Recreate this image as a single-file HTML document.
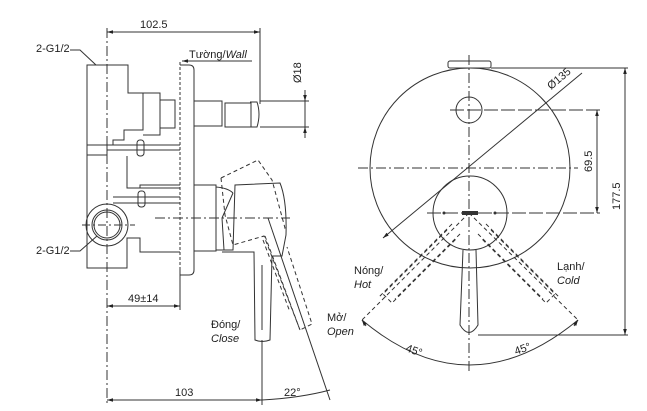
<!DOCTYPE html>
<html><head><meta charset="utf-8"><style>
html,body{margin:0;padding:0;background:#fff;width:647px;height:411px;overflow:hidden}
svg{display:block}
text{font-family:"Liberation Sans","Noto Sans CJK SC",sans-serif;font-size:11px;fill:#222}
.i{font-style:italic}
</style></head><body>
<svg width="647" height="411" viewBox="0 0 647 411" xmlns="http://www.w3.org/2000/svg">
<defs>
<marker id="a" viewBox="0 0 10 10" refX="10" refY="5" markerWidth="6" markerHeight="6" orient="auto-start-reverse"><path d="M0,2 L10,5 L0,8 z" fill="#222"/></marker>
</defs>
<g fill="none" stroke="#333" stroke-width="1">
<!-- LEFT VIEW -->
<!-- center lines -->
<line x1="107" y1="28" x2="107" y2="405" stroke-dasharray="10,3,2,3"/>
<line x1="180" y1="62" x2="180" y2="310" stroke-dasharray="3,2"/>
<line x1="260" y1="28" x2="260" y2="104"/>
<!-- 102.5 dim -->
<line x1="107" y1="32" x2="260" y2="32" marker-start="url(#a)" marker-end="url(#a)"/>
<!-- wall leader -->
<polyline points="252,61 188,61 182,61" marker-end="url(#a)"/>
<!-- 2-G1/2 leaders -->
<polyline points="70,50 80,50 96,65"/>
<polyline points="70,251 80,251 97,236"/>
<!-- body -->
<path d="M87,65 H128 V93 H143 V130 H124 V140 H113 V145 H107 V155 H87 Z"/>
<path d="M87,65 V268 H127 V238 H140 V252 H180"/>
<path d="M143,93 H160 V135 H143"/>
<path d="M160,100 H175 V128 H160"/>
<line x1="87" y1="145" x2="180" y2="145"/>
<line x1="107" y1="150" x2="180" y2="150"/>
<rect x="137" y="140" width="7" height="16" rx="3"/>
<path d="M127,156 V188 H180"/>
<line x1="113" y1="197" x2="180" y2="197"/>
<line x1="113" y1="203" x2="180" y2="203"/>
<rect x="138" y="191" width="7" height="16" rx="3"/>
<path d="M180,185 H140 V188"/>
<!-- fitting circle -->
<circle cx="107" cy="225" r="21"/>
<circle cx="107" cy="225" r="15"/>
<circle cx="107" cy="225" r="13"/>
<line x1="82" y1="225" x2="135" y2="225" stroke-dasharray="8,3,2,3"/>
<!-- wall plate -->
<path d="M180,65 H189 Q194,65 194,70 V270 Q194,275 189,275 H180"/>
<!-- pipe -->
<rect x="194" y="101" width="28" height="25"/>
<rect x="225" y="103" width="26" height="24"/>
<path d="M250,102 H257 Q261,114 257,127 H250"/>
<line x1="260" y1="101" x2="309" y2="101"/>
<line x1="260" y1="127" x2="309" y2="127"/>
<line x1="305" y1="90" x2="305" y2="101" marker-end="url(#a)"/>
<line x1="305" y1="138" x2="305" y2="127" marker-end="url(#a)"/>
<line x1="305" y1="101" x2="305" y2="127"/>
<!-- valve body -->
<rect x="194" y="185" width="22" height="66"/>
<path d="M216,187 Q228,188 233,193"/>
<path d="M216,250 L233,250 L235,185 L280,183 Q287,200 286,235 L282,256 L272,256 L270,340 Q262,343 255,340 L254,252 L222,252"/>
<path d="M233,193 L222,218 L224,250"/>
<line x1="262" y1="265" x2="262" y2="330"/>
<!-- dashed rotated handle -->
<path d="M221,178 L258,160 L272,180 L285,228 L282,230" stroke-dasharray="4,3"/>
<path d="M221,178 L225,215 L233,245 L264,236 L300,330 L312,324 L287,247" stroke-dasharray="4,3"/>
<path d="M265,236 L300,330" stroke-dasharray="4,3"/>
<line x1="263" y1="240" x2="290" y2="312" stroke-dasharray="4,3"/>
<line x1="155" y1="218" x2="290" y2="218" stroke-dasharray="10,3,2,3"/>
<line x1="268" y1="218" x2="330" y2="400"/>
<!-- 49±14 -->
<line x1="180" y1="270" x2="180" y2="310"/>
<line x1="107" y1="306" x2="180" y2="306" marker-start="url(#a)" marker-end="url(#a)"/>
<!-- 103 -->
<line x1="262" y1="340" x2="262" y2="405"/>
<line x1="107" y1="400" x2="262" y2="400" marker-start="url(#a)" marker-end="url(#a)"/>
<path d="M262,400 Q300,398 330,390"/>

<!-- RIGHT VIEW -->
<line x1="469" y1="55" x2="469" y2="372" stroke-dasharray="10,3,2,3"/>
<line x1="358" y1="168" x2="578" y2="168" stroke-dasharray="10,3,2,3"/>
<rect x="448" y="61" width="43" height="7" rx="2"/>
<circle cx="470" cy="168" r="100"/>
<circle cx="469" cy="110" r="13"/>
<line x1="450" y1="110" x2="600" y2="110" stroke-dasharray="14,3"/>
<circle cx="470" cy="213" r="37"/>
<line x1="427" y1="213" x2="600" y2="213" stroke-dasharray="14,3"/>
<line x1="383" y1="238" x2="582" y2="73" marker-start="url(#a)"/>
<line x1="597" y1="110" x2="597" y2="213" marker-start="url(#a)" marker-end="url(#a)"/>
<line x1="491" y1="68" x2="628" y2="68"/>
<line x1="478" y1="335" x2="628" y2="335"/>
<line x1="625" y1="68" x2="625" y2="335" marker-start="url(#a)" marker-end="url(#a)"/>
<!-- handle -->
<path d="M463,250 L460,325 Q469,340 478,325 L476,250"/>
<!-- dashed hot/cold handles -->
<g stroke-dasharray="4,3">
<line x1="469" y1="213" x2="362" y2="320"/>
<line x1="469" y1="213" x2="578" y2="320"/>
<path d="M447,230 L383,294 L392,303 L456,239"/>
<path d="M452,224 L378,298 M460,234 L395,299"/>
<path d="M491,230 L555,294 L546,303 L482,239"/>
<path d="M486,224 L560,298 M478,234 L543,299"/>
</g>
<path d="M362,320 Q469,410 578,320"/>
<line x1="362" y1="320" x2="366" y2="326" marker-start="url(#a)"/>
<line x1="578" y1="320" x2="574" y2="326" marker-start="url(#a)"/>
</g>
<rect x="462" y="211" width="16" height="4" fill="#333"/>
<circle cx="444" cy="213" r="1.5" fill="#333"/>
<circle cx="495" cy="213" r="1.5" fill="#333"/>

<!-- text -->
<text x="140" y="28">102.5</text>
<text x="36" y="52">2-G1/2</text>
<text x="36" y="254">2-G1/2</text>
<text x="189" y="58">Tường/<tspan class="i">Wall</tspan></text>
<text transform="translate(301,83) rotate(-90)">Ø18</text>
<text x="128" y="302">49±14</text>
<text x="175" y="396">103</text>
<text x="284" y="396">22°</text>
<text x="211" y="328">Đóng/</text>
<text x="211" y="342" class="i">Close</text>
<text x="327" y="321">Mở/</text>
<text x="327" y="335" class="i">Open</text>
<text x="354" y="274">Nóng/</text>
<text x="354" y="288" class="i">Hot</text>
<text x="557" y="270">Lạnh/</text>
<text x="557" y="284" class="i">Cold</text>
<text transform="translate(551,90) rotate(-40)">Ø135</text>
<text transform="translate(592,172) rotate(-90)">69.5</text>
<text transform="translate(620,210) rotate(-90)">177.5</text>
<text transform="translate(405,351) rotate(20)">45°</text>
<text transform="translate(516,355) rotate(-20)">45°</text>
</svg>
</body></html>
